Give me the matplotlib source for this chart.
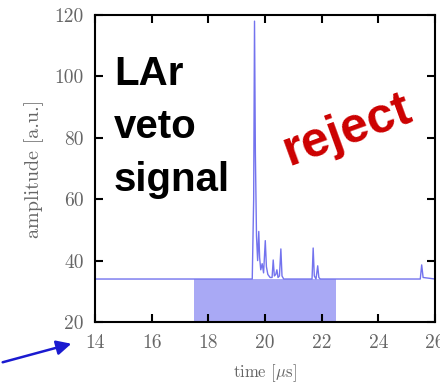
import matplotlib
matplotlib.use("Agg")
import matplotlib.pyplot as plt
from matplotlib.patches import FancyArrowPatch

# ---- data ----
trace_t = [14.0, 19.55, 19.60, 19.63, 19.66, 19.70, 19.74, 19.78, 19.81, 19.85, 19.90,
           19.95, 20.01, 20.05, 20.10, 20.18, 20.25, 20.29, 20.33, 20.38, 20.42, 20.46,
           20.51, 20.56, 20.60, 20.66, 21.66, 21.70, 21.74, 21.80, 21.86, 21.90, 21.95,
           25.48, 25.53, 25.58, 26.0]
trace_a = [34.0, 34.0, 60.0, 118.0, 75.0, 48.0, 40.0, 49.5, 41.0, 37.0, 39.0,
           36.0, 46.5, 38.0, 35.5, 34.5, 34.5, 40.2, 35.0, 35.5, 37.0, 34.5,
           35.0, 43.8, 35.0, 34.0, 34.0, 44.1, 35.0, 34.0, 38.3, 34.5, 34.0,
           34.0, 38.6, 34.5, 34.0]
shade_t = [17.5, 22.5]
shade_top = 34.0
x_ticks = [14, 16, 18, 20, 22, 24, 26]
y_ticks = [20, 40, 60, 80, 100, 120]
xlim = (14, 26)
ylim = (20, 120)

plt.rcParams['mathtext.fontset'] = 'cm'
serif = ['cmr10', 'DejaVu Serif']
grey = '#666666'

fig = plt.figure(figsize=(4.4, 3.86), dpi=100)
ax = fig.add_axes([95/440, 64/386, 340/440, 307/386])

ax.fill_between(shade_t, [ylim[0]]*2, [shade_top]*2, color='#a9a9f5', lw=0, zorder=1)
ax.plot(trace_t, trace_a, color='#7373ee', lw=1.0, zorder=2)

ax.set_xlim(*xlim)
ax.set_ylim(*ylim)
ax.set_xticks(x_ticks)
ax.set_yticks(y_ticks)
ax.tick_params(direction='in', length=6, width=1.5, top=True, right=True,
               labelsize=14, labelcolor=grey)
ax.tick_params(axis='x', pad=9)
ax.tick_params(axis='y', pad=8)
for lab in ax.get_xticklabels() + ax.get_yticklabels():
    lab.set_family(serif)
for s in ax.spines.values():
    s.set_linewidth(1.5)

ax.set_xlabel(r'time [$\mu$s]', fontsize=12, color=grey, family=serif, labelpad=7)
ax.set_ylabel('amplitude [a.u.]', fontsize=14.5, color=grey, family=serif, labelpad=8)

fig.text(114/440, 1 - 191/386, 'LAr\nveto\nsignal', fontsize=29, fontweight='bold',
         family=['Liberation Sans', 'DejaVu Sans'], color='black', va='baseline',
         ha='left', linespacing=1.5)
fig.text(348/440, 1 - 131/386, 'reject', fontsize=36, fontweight='bold',
         family=['Liberation Sans', 'DejaVu Sans'], color='#cc0000', rotation=20,
         ha='center', va='center')

arrow = FancyArrowPatch((0, 386 - 363), (74, 386 - 343), transform=None,
                        arrowstyle='-|>', mutation_scale=22, color='#1a1ad0', lw=1.8)
fig.patches.append(arrow)

fig.savefig('out.png', dpi=100)
